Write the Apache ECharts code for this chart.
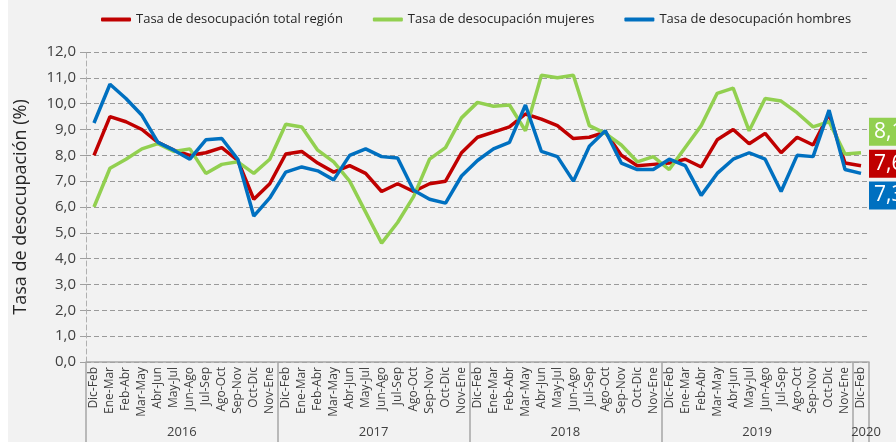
<!DOCTYPE html>
<html>
<head>
<meta charset="utf-8">
<script src="https://cdn.jsdelivr.net/npm/echarts@6/dist/echarts.min.js"></script>
<style>
	html, body { margin: 0; padding: 0; background: #ffffff; }
	#chart { position: absolute; left: 8px; top: 0; width: 888px; height: 442px; }
</style>
</head>
<body>
<div id="chart"></div>
<script>
/** 数据 */
let periodos = ["Dic-Feb", "Ene-Mar", "Feb-Abr", "Mar-May", "Abr-Jun", "May-Jul", "Jun-Ago", "Jul-Sep", "Ago-Oct", "Sep-Nov", "Oct-Dic", "Nov-Ene"];
let anios = ["2016", "2017", "2018", "2019", "2020"];
let periodos_por_anio = [12, 12, 12, 12, 1];

let tasa_total = [
	8.0, 9.5, 9.3, 9.0, 8.5, 8.2, 8.0, 8.1, 8.3, 7.8, 6.3, 6.9,
	8.05, 8.15, 7.7, 7.35, 7.6, 7.3, 6.6, 6.9, 6.6, 6.9, 7.0, 8.1,
	8.7, 8.9, 9.1, 9.6, 9.4, 9.15, 8.65, 8.7, 8.9, 8.0, 7.6, 7.65,
	7.7, 7.85, 7.55, 8.6, 9.0, 8.45, 8.85, 8.1, 8.7, 8.4, 9.6, 7.7,
	7.6,
];
let tasa_mujeres = [
	6.0, 7.5, 7.85, 8.25, 8.45, 8.15, 8.25, 7.3, 7.65, 7.75, 7.3, 7.85,
	9.2, 9.1, 8.2, 7.75, 7.0, 5.8, 4.6, 5.4, 6.4, 7.85, 8.3, 9.45,
	10.05, 9.9, 9.95, 8.95, 11.1, 11.0, 11.1, 9.15, 8.85, 8.4, 7.75, 7.95,
	7.45, 8.3, 9.15, 10.4, 10.6, 8.95, 10.2, 10.1, 9.65, 9.1, 9.3, 8.05,
	8.1,
];
let tasa_hombres = [
	9.25, 10.75, 10.2, 9.55, 8.5, 8.2, 7.85, 8.6, 8.65, 7.85, 5.65, 6.35,
	7.35, 7.55, 7.4, 7.05, 8.0, 8.25, 7.95, 7.9, 6.65, 6.3, 6.15, 7.2,
	7.8, 8.25, 8.5, 9.95, 8.15, 7.95, 7.0, 8.35, 8.95, 7.7, 7.45, 7.45,
	7.85, 7.6, 6.45, 7.3, 7.85, 8.1, 7.85, 6.6, 8.0, 7.95, 9.75, 7.45,
	7.3,
];

// 类目: 每年的时段 + 所属年份
let categorias = [];
let anio_de_cat = [];
let inicio_grupo = {};
let centro_grupo = {};
anios.forEach(function (a, k) {
	inicio_grupo[categorias.length] = true;
	centro_grupo[categorias.length + Math.floor(periodos_por_anio[k] / 2)] = a;
	for (let i = 0; i < periodos_por_anio[k]; i++) {
		categorias.push(periodos[i]);
		anio_de_cat.push(a);
	}
});

let fuente = "'Open Sans', 'Noto Sans', sans-serif";
let coma = function (v) {
	return Number(v).toFixed(1).replace(".", ",");
};

let chart = echarts.init(document.getElementById("chart"));

function serie(nombre, datos, color, dy) {
	return {
		name: nombre,
		type: "line",
		data: datos,
		symbol: "none",
		lineStyle: { color: color, width: 3.5 },
		itemStyle: { color: color },
		endLabel: {
			show: true,
			formatter: function (p) {
				return coma(p.value);
			},
			color: "#ffffff",
			backgroundColor: color,
			fontFamily: fuente,
			fontSize: 21,
			lineHeight: 24,
			padding: [2, 6, 2, 5],
			distance: 8,
			offset: [0, dy],
		},
	};
}

let txt_anio = { fontFamily: fuente, fontSize: 13, color: "#404040" };

let option = {
	backgroundColor: "#f2f2f2",
	animation: false,
	legend: {
		left: 88,
		top: 8,
		itemWidth: 30,
		itemHeight: 4,
		itemGap: 30,
		icon: "roundRect",
		textStyle: { fontFamily: fuente, fontSize: 13, color: "#262626" },
		data: ["Tasa de desocupación total región", "Tasa de desocupación mujeres", "Tasa de desocupación hombres"],
	},
	grid: {
		left: 78,
		right: 27,
		top: 52,
		bottom: 80,
		containLabel: false,
		outerBoundsMode: "none",
	},
	xAxis: [
		{
			type: "category",
			data: categorias,
			boundaryGap: true,
			axisLine: { lineStyle: { color: "#a6a6a6", width: 1.5 } },
			axisTick: { show: false },
			axisLabel: {
				interval: 0,
				rotate: 90,
				margin: 5,
				fontFamily: fuente,
				fontSize: 12,
				color: "#404040",
			},
		},
		{
			// 年份
			type: "category",
			data: anio_de_cat,
			position: "bottom",
			boundaryGap: true,
			axisLine: { show: false },
			axisTick: {
				show: true,
				length: 80,
				interval: function (i) {
					return inicio_grupo[i] === true;
				},
				lineStyle: { color: "#a6a6a6", width: 1.5 },
			},
			axisLabel: {
				interval: function (i) {
					return centro_grupo[i] !== undefined;
				},
				margin: 64,
				fontFamily: fuente,
				fontSize: 13,
				color: "#404040",
				formatter: function (v) {
					// 12个时段的年份居中在两个类目之间
					return periodos_por_anio[anios.indexOf(v)] > 1 ? "{a|" + v + "}{s|}" : "{s2|}{a|" + v + "}";
				},
				rich: {
					a: txt_anio,
					s: { width: 16, fontSize: 13 },
					s2: { width: 10, fontSize: 13 },
				},
			},
		},
	],
	yAxis: {
		type: "value",
		min: 0,
		max: 12,
		interval: 1,
		name: "Tasa de desocupación (%)",
		nameLocation: "middle",
		nameGap: 56,
		nameTextStyle: { fontFamily: fuente, fontSize: 18, color: "#262626" },
		axisLine: { show: true, lineStyle: { color: "#b0b0b0", type: [5, 3] } },
		axisTick: { show: true, length: 6, lineStyle: { color: "#a0a0a0" } },
		axisLabel: {
			margin: 10,
			fontFamily: fuente,
			fontSize: 15,
			color: "#404040",
			formatter: coma,
		},
		splitLine: { lineStyle: { color: "#9a9a9a", type: [5, 3] } },
	},
	series: [
		serie("Tasa de desocupación total región", tasa_total, "#c00000", -2),
		serie("Tasa de desocupación mujeres", tasa_mujeres, "#92d050", -21),
		serie("Tasa de desocupación hombres", tasa_hombres, "#0070c0", 22),
	],
};
chart.setOption(option);
</script>
</body>
</html>
